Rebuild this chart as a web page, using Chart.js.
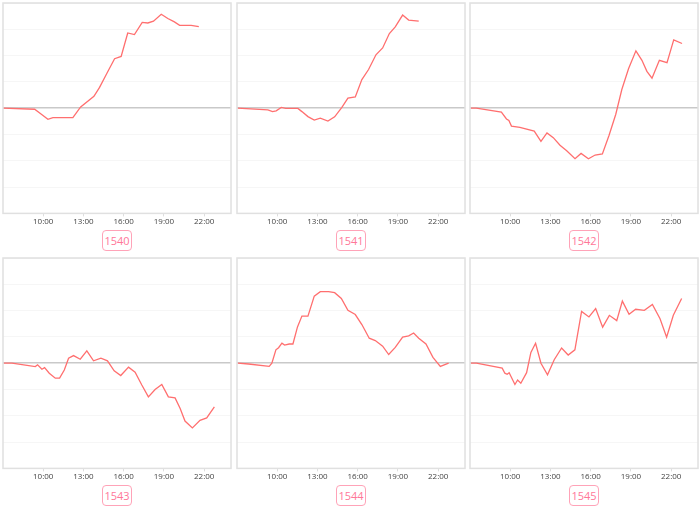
<!DOCTYPE html>
<html>
<head>
<meta charset="utf-8">
<script src="https://cdn.jsdelivr.net/npm/chart.js@4/dist/chart.umd.min.js"></script>
<style>
  html, body { margin: 0; padding: 0; background: #fff; }
  body { width: 700px; height: 511px; position: relative; overflow: hidden; font-family: "Open Sans", "Noto Sans", sans-serif; }
  .cell { position: absolute; width: 232px; height: 227px; }
  .cell canvas { display: block; }
  .tag {
    position: absolute; width: 28px; height: 19px; line-height: 19px;
    border: 1px solid #ffa3b8; border-radius: 4px; color: #ff7799;
    font-size: 11px; text-align: center; background: #fff;
  }
</style>
</head>
<body>
<script>
'use strict';

// ── Data: hours of day (decimal) and values per station ──
const tags = ['1540', '1541', '1542', '1543', '1544', '1545'];
const tickHours = [10, 13, 16, 19, 22];

const hours1540 = [7.0, 9.36, 9.86, 10.35, 10.72, 12.21, 12.79, 13.78, 14.2, 14.7, 15.32, 15.81, 16.3, 16.8, 17.38, 17.8, 18.22, 18.8, 19.29, 19.78, 20.17, 21.03, 21.6];
const values1540 = [0, -0.04, -0.23, -0.42, -0.36, -0.36, 0.05, 0.45, 0.79, 1.28, 1.88, 1.97, 2.86, 2.8, 3.26, 3.24, 3.31, 3.57, 3.41, 3.28, 3.15, 3.15, 3.1];

const hours1541 = [7.06, 9.3, 9.65, 9.92, 10.3, 10.64, 11.54, 11.84, 12.29, 12.76, 13.21, 13.78, 14.28, 14.82, 15.27, 15.82, 16.31, 16.81, 17.36, 17.86, 18.36, 18.8, 19.35, 19.8, 20.55];
const values1541 = [0, -0.06, -0.13, -0.1, 0.03, -0.01, -0.01, -0.13, -0.32, -0.45, -0.38, -0.49, -0.33, 0.03, 0.38, 0.43, 1.09, 1.47, 2.03, 2.29, 2.84, 3.09, 3.54, 3.35, 3.31];

const hours1542 = [7.05, 7.47, 9.34, 9.72, 9.9, 10.09, 10.72, 11.79, 12.29, 12.74, 13.21, 13.71, 14.21, 14.83, 15.28, 15.83, 16.33, 16.87, 17.37, 17.87, 18.32, 18.82, 19.37, 19.82, 20.19, 20.57, 21.12, 21.69, 22.19, 22.81];
const values1542 = [0, 0, -0.15, -0.41, -0.47, -0.68, -0.73, -0.87, -1.26, -0.94, -1.12, -1.41, -1.62, -1.92, -1.72, -1.92, -1.78, -1.74, -1.03, -0.23, 0.71, 1.5, 2.18, 1.82, 1.4, 1.14, 1.82, 1.73, 2.6, 2.46];

const hours1543 = [7.05, 7.67, 9.41, 9.58, 9.9, 10.1, 10.45, 10.9, 11.22, 11.57, 11.89, 12.26, 12.76, 13.25, 13.75, 14.3, 14.79, 15.29, 15.78, 16.36, 16.85, 17.35, 17.84, 18.34, 18.84, 19.33, 19.83, 20.21, 20.57, 21.12, 21.69, 22.19, 22.76];
const values1543 = [0, 0, -0.13, -0.06, -0.23, -0.17, -0.38, -0.57, -0.57, -0.26, 0.19, 0.29, 0.15, 0.47, 0.09, 0.19, 0.09, -0.29, -0.47, -0.15, -0.34, -0.83, -1.28, -1.0, -0.81, -1.28, -1.32, -1.72, -2.2, -2.46, -2.17, -2.08, -1.66];

const hours1544 = [7.06, 7.86, 9.4, 9.6, 9.9, 10.1, 10.35, 10.55, 10.89, 11.17, 11.51, 11.84, 12.29, 12.76, 13.21, 13.83, 14.28, 14.78, 15.27, 15.82, 16.31, 16.86, 17.31, 17.86, 18.31, 18.8, 19.35, 19.8, 20.17, 20.55, 21.09, 21.61, 22.16, 22.78];
const values1544 = [0, -0.03, -0.12, 0, 0.51, 0.59, 0.76, 0.69, 0.73, 0.73, 1.38, 1.79, 1.79, 2.55, 2.72, 2.72, 2.68, 2.46, 2.01, 1.85, 1.47, 0.95, 0.86, 0.65, 0.33, 0.6, 0.99, 1.04, 1.15, 0.95, 0.73, 0.22, -0.12, 0];

const hours1545 = [7.06, 7.48, 9.4, 9.6, 9.77, 9.92, 10.35, 10.55, 10.79, 11.22, 11.54, 11.89, 12.29, 12.78, 13.28, 13.83, 14.32, 14.82, 15.32, 15.87, 16.37, 16.89, 17.39, 17.94, 18.36, 18.86, 19.35, 20.0, 20.6, 21.17, 21.66, 22.16, 22.78];
const values1545 = [0, 0, -0.19, -0.38, -0.42, -0.36, -0.81, -0.64, -0.76, -0.36, 0.41, 0.76, 0, -0.44, 0.13, 0.58, 0.31, 0.51, 1.97, 1.76, 2.08, 1.37, 1.82, 1.62, 2.36, 1.86, 2.05, 2.01, 2.23, 1.69, 0.99, 1.82, 2.46];

const series = [
    [hours1540, values1540],
    [hours1541, values1541],
    [hours1542, values1542],
    [hours1543, values1543],
    [hours1544, values1544],
    [hours1545, values1545],
];

// ── Layout of the 3 x 2 grid ───────────────────────────
const colLeft = [1, 235, 468];
const rowTop = [1, 256];

// frame around the plot area
const framePlugin = {
    id: 'frame',
    afterDraw(chart) {
        const a = chart.chartArea;
        const c = chart.ctx;
        c.save();
        c.strokeStyle = '#e0e0e0';
        c.lineWidth = 1.5;
        c.strokeRect(a.left, a.top, a.right - a.left, a.bottom - a.top);
        c.restore();
    }
};

tags.forEach((tag, i) => {
    const col = i % 3;
    const row = Math.floor(i / 3);

    const cell = document.createElement('div');
    cell.className = 'cell';
    cell.style.left = colLeft[col] + 'px';
    cell.style.top = rowTop[row] + 'px';
    const canvas = document.createElement('canvas');
    cell.appendChild(canvas);
    document.body.appendChild(cell);

    const label = document.createElement('div');
    label.className = 'tag';
    label.textContent = tag;
    label.style.left = (colLeft[col] + 116 - 15) + 'px';
    label.style.top = (rowTop[row] + 229) + 'px';
    document.body.appendChild(label);

    const [hrs, vals] = series[i];
    const points = hrs.map((h, k) => ({ x: h, y: vals[k] }));

    new Chart(canvas, {
        type: 'line',
        data: {
            datasets: [{
                data: points,
                borderColor: '#ff6f6f',
                borderWidth: 1.3,
                pointRadius: 0,
                tension: 0,
                fill: false,
            }]
        },
        options: {
            responsive: true,
            maintainAspectRatio: false,
            animation: false,
            layout: { padding: { left: 2, right: 2, top: 2, bottom: 0 } },
            plugins: { legend: { display: false }, tooltip: { enabled: false } },
            scales: {
                x: {
                    type: 'linear',
                    min: 7,
                    max: 24,
                    afterBuildTicks: (axis) => {
                        axis.ticks = tickHours.map(v => ({ value: v }));
                    },
                    border: { display: false },
                    grid: { drawOnChartArea: false, tickLength: 3, color: '#dddddd' },
                    ticks: {
                        maxRotation: 0,
                        padding: 1,
                        color: '#444',
                        font: { size: 8, family: '"Open Sans", "Noto Sans", sans-serif' },
                        callback: (v) => v + ':00'
                    }
                },
                y: {
                    min: -4,
                    max: 4,
                    border: { display: false },
                    grid: {
                        drawTicks: false,
                        color: (ctx) => ctx.tick.value === 0 ? '#c9c9c9' : '#f6f6f6',
                        lineWidth: (ctx) => ctx.tick.value === 0 ? 1.5 : 1
                    },
                    ticks: { display: false, stepSize: 1 }
                }
            }
        },
        plugins: [framePlugin]
    });
});
</script>
</body>
</html>
